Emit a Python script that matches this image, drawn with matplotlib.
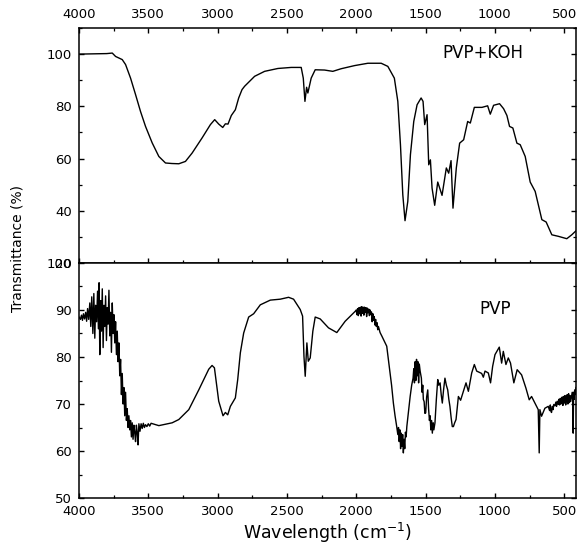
import matplotlib
matplotlib.use("Agg")
import matplotlib.pyplot as plt
from matplotlib.ticker import MultipleLocator

plt.rcParams['font.family'] = ['DejaVu Sans']

# PVP+KOH spectrum (top panel)
koh_wn = [4000, 3900, 3800, 3760, 3736, 3688, 3664, 3628, 3592, 3556, 3520, 3472,
          3424, 3376, 3330, 3280, 3232, 3184, 3112, 3052, 3021, 2992, 2963, 2944,
          2925, 2901, 2872, 2848, 2824, 2805, 2733, 2661, 2565, 2469, 2397, 2382,
          2370, 2358, 2349, 2325, 2296, 2229, 2169, 2109, 2012, 1916, 1820, 1772,
          1725, 1700, 1681, 1664, 1648, 1628, 1609, 1585, 1561, 1532, 1518, 1506,
          1489, 1477, 1465, 1453, 1434, 1412, 1381, 1350, 1333, 1316, 1302, 1278,
          1254, 1225, 1196, 1177, 1148, 1093, 1052, 1033, 1009, 966, 937, 913,
          894, 870, 841, 817, 781, 745, 709, 661, 630, 589, 541, 481, 445, 415]
koh_t = [100.0, 100.1, 100.2, 100.4, 99.1, 97.9, 96.0, 90.8, 84.5, 78.0, 72.3, 66.0,
         60.8, 58.3, 58.1, 58.0, 58.9, 62.1, 67.9, 73.0, 74.9, 73.2, 71.9, 73.3,
         73.2, 76.5, 78.7, 83.2, 86.4, 87.7, 91.5, 93.4, 94.5, 94.9, 94.9, 90.8,
         81.9, 87.3, 85.1, 90.8, 94.0, 93.9, 93.4, 94.4, 95.6, 96.5, 96.5, 95.3,
         90.8, 81.9, 65.3, 46.1, 36.2, 43.6, 61.5, 74.2, 80.6, 83.2, 81.9, 73.0,
         76.8, 57.6, 59.5, 48.7, 42.1, 51.0, 45.9, 56.4, 54.4, 59.2, 41.0, 56.4,
         65.9, 67.2, 74.2, 73.6, 79.6, 79.6, 80.2, 77.0, 80.4, 81.0, 79.1, 76.5,
         72.3, 71.7, 65.9, 65.3, 60.8, 51.0, 47.4, 36.6, 35.7, 30.8, 30.2, 29.3, 30.8, 32.3]

# PVP spectrum (bottom panel)
pvp_wn = [4000, 3990, 3982, 3975, 3968, 3960, 3952, 3945, 3938, 3930, 3922, 3915,
          3908, 3900, 3893, 3886, 3880, 3873, 3866, 3860, 3855, 3850, 3844, 3838,
          3832, 3826, 3820, 3814, 3808, 3802, 3796, 3790, 3784, 3778, 3772, 3766,
          3760, 3754, 3748, 3742, 3736, 3730, 3724, 3718, 3712, 3706, 3700, 3694,
          3688, 3682, 3676, 3670, 3664, 3658, 3652, 3646, 3640, 3634, 3628, 3622,
          3616, 3610, 3604, 3598, 3592, 3586, 3580, 3574, 3568, 3560, 3552, 3544,
          3536, 3528, 3520, 3510, 3500, 3490, 3480, 3424, 3328, 3280, 3208, 3136,
          3100, 3064, 3040, 3023, 3009, 2992, 2961, 2944, 2927, 2908, 2872, 2855,
          2836, 2812, 2776, 2740, 2692, 2620, 2548, 2488, 2452, 2404, 2387, 2377,
          2368, 2356, 2346, 2332, 2313, 2296, 2260, 2200, 2140, 2080, 2008, 2000,
          1995, 1990, 1985, 1980, 1975, 1970, 1965, 1960, 1955, 1950, 1945, 1940,
          1935, 1930, 1925, 1920, 1915, 1910, 1905, 1900, 1895, 1890, 1885, 1880,
          1875, 1870, 1865, 1860, 1855, 1850, 1845, 1840, 1828, 1816, 1800, 1780,
          1770, 1756, 1745, 1732, 1720, 1708, 1700, 1695, 1690, 1685, 1680, 1675,
          1670, 1665, 1660, 1655, 1650, 1645, 1640, 1635, 1623, 1611, 1600, 1590,
          1585, 1580, 1575, 1570, 1565, 1560, 1555, 1550, 1545, 1539, 1530, 1525,
          1520, 1516, 1510, 1505, 1499, 1492, 1484, 1478, 1472, 1467, 1462, 1457,
          1451, 1445, 1440, 1432, 1422, 1412, 1405, 1395, 1387, 1379, 1370, 1360,
          1350, 1340, 1332, 1324, 1315, 1307, 1299, 1290, 1280, 1263, 1247, 1227,
          1208, 1191, 1167, 1148, 1131, 1095, 1083, 1071, 1047, 1031, 1016, 999,
          968, 951, 939, 920, 903, 887, 863, 839, 807, 776, 752, 735,
          718, 699, 687, 680, 675, 663, 639, 615, 605, 600, 595, 591,
          585, 580, 575, 567, 560, 555, 550, 543, 538, 533, 528, 523,
          519, 514, 509, 504, 499, 494, 489, 483, 478, 473, 468, 463,
          458, 453, 447, 442, 438, 435, 432, 428, 424, 420, 415]
pvp_t = [88.5, 88.0, 88.9, 87.8, 89.2, 88.1, 89.5, 87.6, 90.3, 88.0, 91.5, 86.5,
         92.8, 85.0, 93.5, 84.0, 91.0, 87.5, 94.0, 86.0, 95.8, 80.5, 92.0, 85.5,
         94.5, 82.0, 91.0, 86.5, 93.0, 83.5, 90.5, 87.0, 94.2, 84.5, 89.5, 81.0,
         91.5, 85.0, 89.0, 83.0, 87.5, 80.5, 85.5, 79.0, 83.0, 76.0, 79.5, 72.0,
         76.5, 70.0, 73.5, 67.5, 72.5, 66.5, 69.0, 65.0, 67.5, 64.5, 66.5, 63.0,
         66.0, 62.5, 65.5, 64.0, 62.0, 65.5, 64.0, 61.3, 65.8, 64.2, 65.8, 64.8,
         65.9, 65.0, 65.6, 65.2, 65.8, 65.3, 65.9, 65.4, 66.0, 66.7, 68.8, 73.0,
         75.2, 77.4, 78.2, 77.7, 74.5, 70.6, 67.5, 68.2, 67.7, 69.5, 71.3, 75.2,
         80.9, 85.1, 88.5, 89.2, 91.1, 92.1, 92.3, 92.7, 92.3, 90.1, 88.7, 80.1,
         75.9, 83.0, 79.1, 79.8, 85.5, 88.5, 88.1, 86.2, 85.2, 87.6, 89.7, 90.0,
         89.0, 90.3, 88.8, 90.5, 89.2, 90.6, 88.7, 90.7, 89.3, 90.6, 88.9, 90.6,
         89.5, 90.5, 88.6, 90.4, 89.4, 90.2, 88.8, 90.0, 89.0, 89.6, 87.5, 89.2,
         87.8, 88.6, 86.8, 88.0, 86.5, 87.3, 85.8, 86.5, 85.2, 84.5, 83.5, 82.3,
         80.0, 76.6, 74.0, 70.2, 67.5, 65.2, 63.5, 65.0, 62.0, 64.5, 60.5, 63.8,
         61.0, 63.5, 59.6, 62.5, 60.5, 64.0, 63.0, 65.2, 68.5, 71.6, 74.0, 75.5,
         77.5, 74.5, 79.0, 75.0, 79.5, 76.0, 79.0, 74.5, 78.5, 77.0, 75.5, 72.5,
         74.0, 71.0, 70.5, 68.0, 68.1, 71.5, 73.0, 69.0, 66.5, 67.5, 64.5, 66.5,
         63.8, 66.0, 64.5, 66.0, 71.0, 75.2, 74.0, 74.5, 72.0, 70.2, 73.0, 75.5,
         74.0, 73.0, 71.0, 69.5, 67.0, 65.2, 65.2, 66.0, 66.7, 71.6, 70.8, 72.7,
         74.5, 72.7, 76.6, 78.4, 77.0, 76.5, 75.7, 77.0, 76.6, 74.5, 78.0, 80.5,
         82.1, 78.7, 81.2, 78.4, 79.8, 78.7, 74.5, 77.3, 76.2, 73.4, 70.9, 71.6,
         70.6, 69.5, 68.8, 59.6, 68.8, 67.4, 69.1, 69.5, 68.6, 69.8, 68.4, 68.2,
         69.5, 68.8, 69.9, 69.6, 70.4, 69.5, 70.6, 69.9, 71.0, 69.8, 71.2, 70.0,
         70.6, 71.5, 69.7, 71.6, 70.2, 71.8, 69.8, 70.9, 72.0, 70.0, 72.2, 70.3,
         71.8, 70.5, 71.6, 72.5, 70.8, 63.8, 72.5, 71.0, 73.0, 72.0, 73.5]

x_ticks = [4000, 3500, 3000, 2500, 2000, 1500, 1000, 500]
top_yticks = [20, 40, 60, 80, 100]
bottom_yticks = [50, 60, 70, 80, 90, 100]

fig = plt.figure(figsize=(5.8, 5.48), dpi=100)
ax1 = fig.add_axes([0.1362, 0.5201, 0.8568, 0.4288])
ax2 = fig.add_axes([0.1362, 0.0912, 0.8568, 0.4289])

ax1.plot(koh_wn, koh_t, color='black', lw=1.0)
ax2.plot(pvp_wn, pvp_t, color='black', lw=1.0)

for ax in (ax1, ax2):
    ax.set_xlim(4000, 415)
    ax.set_xticks(x_ticks)
    ax.xaxis.set_minor_locator(MultipleLocator(250))
    for s in ax.spines.values():
        s.set_linewidth(1.1)
    ax.tick_params(which='major', direction='in', length=3.5, width=1.0,
                   labelsize=9.5, pad=5)
    ax.tick_params(which='minor', direction='in', length=2, width=0.9)

ax1.set_ylim(20, 110)
ax1.set_yticks(top_yticks)
ax1.yaxis.set_minor_locator(MultipleLocator(10))
ax1.tick_params(which='both', top=True, bottom=True, right=True,
                labeltop=True, labelbottom=False)

ax2.set_ylim(50, 100)
ax2.set_yticks(bottom_yticks)
ax2.yaxis.set_minor_locator(MultipleLocator(5))
ax2.tick_params(which='both', top=False, bottom=True, right=True)

ax1.text(1087, 100.5, 'PVP+KOH', ha='center', va='center', fontsize=12)
ax2.text(1000, 90.3, 'PVP', ha='center', va='center', fontsize=12)

ax2.set_xlabel('Wavelength (cm$^{-1}$)', fontsize=12.5, labelpad=2)
fig.text(0.03, 0.547, 'Transmittance (%)', rotation=90, ha='center',
         va='center', fontsize=10)

fig.savefig('out.png', dpi=100)
